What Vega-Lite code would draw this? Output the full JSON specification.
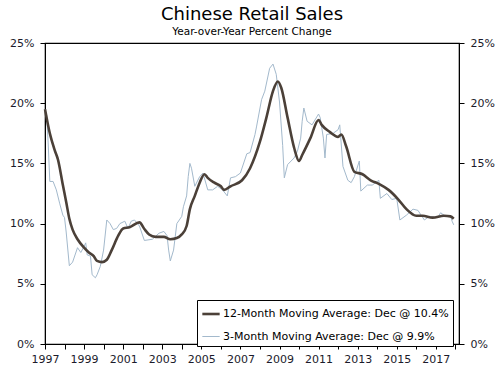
{
  "$schema": "https://vega.github.io/schema/vega-lite/v6.json",
  "width": 414,
  "height": 301,
  "autosize": "none",
  "padding": {"left": 45, "top": 43, "right": 41, "bottom": 28},
  "background": "white",
  "title": {
    "text": "Chinese Retail Sales",
    "subtitle": "Year-over-Year Percent Change",
    "font": "DejaVu Sans",
    "fontSize": 18,
    "fontWeight": "normal",
    "color": "#000",
    "subtitleFont": "DejaVu Sans",
    "subtitleFontSize": 10.5,
    "subtitleColor": "#000",
    "subtitlePadding": 3,
    "anchor": "middle",
    "offset": 5,
    "dy": 5
  },
  "config": {
    "view": {"stroke": "#000", "strokeWidth": 1.2},
    "axis": {
      "labelFont": "DejaVu Sans",
      "labelFontSize": 11,
      "labelColor": "#1b1b2b",
      "domainColor": "#000",
      "tickColor": "#000",
      "grid": false,
      "title": null
    }
  },
  "data": {
    "values": [
      {"date": "1997-01", "series": "12-Month", "value": 19.5},
      {"date": "1997-04", "series": "12-Month", "value": 17.5},
      {"date": "1997-07", "series": "12-Month", "value": 16.1},
      {"date": "1997-09", "series": "12-Month", "value": 15.3},
      {"date": "1997-12", "series": "12-Month", "value": 13.2},
      {"date": "1998-02", "series": "12-Month", "value": 11.8},
      {"date": "1998-04", "series": "12-Month", "value": 10.4},
      {"date": "1998-06", "series": "12-Month", "value": 9.5},
      {"date": "1998-09", "series": "12-Month", "value": 8.7},
      {"date": "1999-01", "series": "12-Month", "value": 8.0},
      {"date": "1999-04", "series": "12-Month", "value": 7.6},
      {"date": "1999-07", "series": "12-Month", "value": 7.3},
      {"date": "1999-09", "series": "12-Month", "value": 6.9},
      {"date": "1999-12", "series": "12-Month", "value": 6.8},
      {"date": "2000-03", "series": "12-Month", "value": 7.0},
      {"date": "2000-06", "series": "12-Month", "value": 7.8},
      {"date": "2000-10", "series": "12-Month", "value": 9.0},
      {"date": "2001-01", "series": "12-Month", "value": 9.6},
      {"date": "2001-05", "series": "12-Month", "value": 9.7},
      {"date": "2001-11", "series": "12-Month", "value": 10.1},
      {"date": "2002-02", "series": "12-Month", "value": 9.55},
      {"date": "2002-05", "series": "12-Month", "value": 9.1},
      {"date": "2002-09", "series": "12-Month", "value": 8.9},
      {"date": "2003-02", "series": "12-Month", "value": 8.9},
      {"date": "2003-06", "series": "12-Month", "value": 8.7},
      {"date": "2003-10", "series": "12-Month", "value": 8.8},
      {"date": "2004-01", "series": "12-Month", "value": 9.1},
      {"date": "2004-04", "series": "12-Month", "value": 9.8},
      {"date": "2004-06", "series": "12-Month", "value": 11.2},
      {"date": "2004-09", "series": "12-Month", "value": 12.3},
      {"date": "2004-12", "series": "12-Month", "value": 13.4},
      {"date": "2005-03", "series": "12-Month", "value": 14.1},
      {"date": "2005-05", "series": "12-Month", "value": 13.8},
      {"date": "2005-09", "series": "12-Month", "value": 13.4},
      {"date": "2006-01", "series": "12-Month", "value": 13.1},
      {"date": "2006-03", "series": "12-Month", "value": 12.8},
      {"date": "2006-07", "series": "12-Month", "value": 13.1},
      {"date": "2007-02", "series": "12-Month", "value": 13.6},
      {"date": "2007-07", "series": "12-Month", "value": 14.6},
      {"date": "2008-01", "series": "12-Month", "value": 16.8},
      {"date": "2008-05", "series": "12-Month", "value": 18.8},
      {"date": "2008-09", "series": "12-Month", "value": 21.0},
      {"date": "2008-12", "series": "12-Month", "value": 21.8},
      {"date": "2009-02", "series": "12-Month", "value": 21.3},
      {"date": "2009-06", "series": "12-Month", "value": 18.8},
      {"date": "2009-10", "series": "12-Month", "value": 16.3},
      {"date": "2010-01", "series": "12-Month", "value": 15.2},
      {"date": "2010-03", "series": "12-Month", "value": 15.7},
      {"date": "2010-08", "series": "12-Month", "value": 17.1},
      {"date": "2011-01", "series": "12-Month", "value": 18.6},
      {"date": "2011-03", "series": "12-Month", "value": 18.2},
      {"date": "2011-08", "series": "12-Month", "value": 17.6},
      {"date": "2012-01", "series": "12-Month", "value": 17.2},
      {"date": "2012-03", "series": "12-Month", "value": 17.4},
      {"date": "2012-06", "series": "12-Month", "value": 16.4},
      {"date": "2012-11", "series": "12-Month", "value": 14.3},
      {"date": "2013-04", "series": "12-Month", "value": 14.1},
      {"date": "2013-09", "series": "12-Month", "value": 13.6},
      {"date": "2014-02", "series": "12-Month", "value": 13.3},
      {"date": "2014-08", "series": "12-Month", "value": 12.8},
      {"date": "2015-02", "series": "12-Month", "value": 12.0},
      {"date": "2015-07", "series": "12-Month", "value": 11.2},
      {"date": "2016-01", "series": "12-Month", "value": 10.65},
      {"date": "2016-05", "series": "12-Month", "value": 10.65},
      {"date": "2016-11", "series": "12-Month", "value": 10.5},
      {"date": "2017-06", "series": "12-Month", "value": 10.65},
      {"date": "2017-10", "series": "12-Month", "value": 10.6},
      {"date": "2017-12", "series": "12-Month", "value": 10.4},

      {"date": "1997-01", "series": "3-Month", "value": 19.5},
      {"date": "1997-02", "series": "3-Month", "value": 19.0},
      {"date": "1997-03", "series": "3-Month", "value": 16.7},
      {"date": "1997-04", "series": "3-Month", "value": 13.5},
      {"date": "1997-06", "series": "3-Month", "value": 13.5},
      {"date": "1997-08", "series": "3-Month", "value": 12.8},
      {"date": "1997-10", "series": "3-Month", "value": 11.7},
      {"date": "1997-12", "series": "3-Month", "value": 10.7},
      {"date": "1998-01", "series": "3-Month", "value": 10.5},
      {"date": "1998-02", "series": "3-Month", "value": 9.3},
      {"date": "1998-04", "series": "3-Month", "value": 6.5},
      {"date": "1998-06", "series": "3-Month", "value": 6.8},
      {"date": "1998-09", "series": "3-Month", "value": 8.0},
      {"date": "1998-11", "series": "3-Month", "value": 7.6},
      {"date": "1999-01", "series": "3-Month", "value": 8.1},
      {"date": "1999-02", "series": "3-Month", "value": 8.4},
      {"date": "1999-03", "series": "3-Month", "value": 7.4},
      {"date": "1999-05", "series": "3-Month", "value": 7.3},
      {"date": "1999-06", "series": "3-Month", "value": 5.75},
      {"date": "1999-08", "series": "3-Month", "value": 5.5},
      {"date": "1999-09", "series": "3-Month", "value": 5.75},
      {"date": "1999-11", "series": "3-Month", "value": 6.45},
      {"date": "2000-01", "series": "3-Month", "value": 7.8},
      {"date": "2000-03", "series": "3-Month", "value": 10.3},
      {"date": "2000-05", "series": "3-Month", "value": 10.0},
      {"date": "2000-07", "series": "3-Month", "value": 9.5},
      {"date": "2000-09", "series": "3-Month", "value": 9.6},
      {"date": "2000-11", "series": "3-Month", "value": 10.0},
      {"date": "2001-02", "series": "3-Month", "value": 10.2},
      {"date": "2001-04", "series": "3-Month", "value": 9.6},
      {"date": "2001-06", "series": "3-Month", "value": 10.2},
      {"date": "2001-08", "series": "3-Month", "value": 10.3},
      {"date": "2001-11", "series": "3-Month", "value": 9.8},
      {"date": "2002-02", "series": "3-Month", "value": 8.6},
      {"date": "2002-07", "series": "3-Month", "value": 8.7},
      {"date": "2002-11", "series": "3-Month", "value": 9.2},
      {"date": "2003-02", "series": "3-Month", "value": 9.35},
      {"date": "2003-04", "series": "3-Month", "value": 9.0},
      {"date": "2003-05", "series": "3-Month", "value": 7.8},
      {"date": "2003-06", "series": "3-Month", "value": 6.9},
      {"date": "2003-08", "series": "3-Month", "value": 7.8},
      {"date": "2003-10", "series": "3-Month", "value": 10.0},
      {"date": "2004-01", "series": "3-Month", "value": 10.6},
      {"date": "2004-02", "series": "3-Month", "value": 11.4},
      {"date": "2004-04", "series": "3-Month", "value": 12.3},
      {"date": "2004-05", "series": "3-Month", "value": 13.9},
      {"date": "2004-06", "series": "3-Month", "value": 15.0},
      {"date": "2004-07", "series": "3-Month", "value": 14.6},
      {"date": "2004-09", "series": "3-Month", "value": 13.1},
      {"date": "2004-12", "series": "3-Month", "value": 13.9},
      {"date": "2005-02", "series": "3-Month", "value": 14.2},
      {"date": "2005-05", "series": "3-Month", "value": 12.8},
      {"date": "2005-08", "series": "3-Month", "value": 12.8},
      {"date": "2005-11", "series": "3-Month", "value": 13.1},
      {"date": "2006-02", "series": "3-Month", "value": 12.8},
      {"date": "2006-05", "series": "3-Month", "value": 12.3},
      {"date": "2006-07", "series": "3-Month", "value": 13.8},
      {"date": "2006-10", "series": "3-Month", "value": 13.9},
      {"date": "2007-01", "series": "3-Month", "value": 14.2},
      {"date": "2007-05", "series": "3-Month", "value": 15.8},
      {"date": "2007-07", "series": "3-Month", "value": 15.9},
      {"date": "2007-10", "series": "3-Month", "value": 17.4},
      {"date": "2007-11", "series": "3-Month", "value": 18.1},
      {"date": "2008-02", "series": "3-Month", "value": 20.3},
      {"date": "2008-04", "series": "3-Month", "value": 21.0},
      {"date": "2008-07", "series": "3-Month", "value": 22.9},
      {"date": "2008-09", "series": "3-Month", "value": 23.25},
      {"date": "2008-11", "series": "3-Month", "value": 22.4},
      {"date": "2009-01", "series": "3-Month", "value": 20.1},
      {"date": "2009-03", "series": "3-Month", "value": 16.5},
      {"date": "2009-04", "series": "3-Month", "value": 13.8},
      {"date": "2009-06", "series": "3-Month", "value": 14.9},
      {"date": "2009-10", "series": "3-Month", "value": 15.45},
      {"date": "2009-12", "series": "3-Month", "value": 16.0},
      {"date": "2010-02", "series": "3-Month", "value": 17.1},
      {"date": "2010-03", "series": "3-Month", "value": 18.5},
      {"date": "2010-04", "series": "3-Month", "value": 19.6},
      {"date": "2010-06", "series": "3-Month", "value": 18.5},
      {"date": "2010-09", "series": "3-Month", "value": 18.2},
      {"date": "2011-01", "series": "3-Month", "value": 19.1},
      {"date": "2011-02", "series": "3-Month", "value": 18.8},
      {"date": "2011-04", "series": "3-Month", "value": 17.1},
      {"date": "2011-05", "series": "3-Month", "value": 15.45},
      {"date": "2011-06", "series": "3-Month", "value": 17.4},
      {"date": "2011-10", "series": "3-Month", "value": 17.5},
      {"date": "2012-01", "series": "3-Month", "value": 17.8},
      {"date": "2012-02", "series": "3-Month", "value": 18.2},
      {"date": "2012-04", "series": "3-Month", "value": 14.75},
      {"date": "2012-07", "series": "3-Month", "value": 13.6},
      {"date": "2012-09", "series": "3-Month", "value": 13.4},
      {"date": "2012-11", "series": "3-Month", "value": 13.9},
      {"date": "2013-02", "series": "3-Month", "value": 15.2},
      {"date": "2013-03", "series": "3-Month", "value": 12.7},
      {"date": "2013-07", "series": "3-Month", "value": 13.2},
      {"date": "2013-10", "series": "3-Month", "value": 13.2},
      {"date": "2014-02", "series": "3-Month", "value": 13.6},
      {"date": "2014-03", "series": "3-Month", "value": 12.1},
      {"date": "2014-07", "series": "3-Month", "value": 12.5},
      {"date": "2014-10", "series": "3-Month", "value": 12.0},
      {"date": "2015-01", "series": "3-Month", "value": 12.1},
      {"date": "2015-03", "series": "3-Month", "value": 10.3},
      {"date": "2015-07", "series": "3-Month", "value": 10.7},
      {"date": "2015-11", "series": "3-Month", "value": 11.2},
      {"date": "2016-02", "series": "3-Month", "value": 11.1},
      {"date": "2016-06", "series": "3-Month", "value": 10.3},
      {"date": "2016-09", "series": "3-Month", "value": 10.6},
      {"date": "2017-02", "series": "3-Month", "value": 10.5},
      {"date": "2017-04", "series": "3-Month", "value": 10.9},
      {"date": "2017-07", "series": "3-Month", "value": 10.6},
      {"date": "2017-10", "series": "3-Month", "value": 10.65},
      {"date": "2017-11", "series": "3-Month", "value": 10.2},
      {"date": "2017-12", "series": "3-Month", "value": 9.9}
    ]
  },
  "encoding": {
    "x": {
      "field": "date",
      "type": "temporal",
      "scale": {
        "type": "utc",
        "nice": false,
        "domain": [
          {"year": 1997, "month": 1, "date": 1, "utc": true},
          {"year": 2018, "month": 3, "date": 10, "utc": true}
        ]
      },
      "axis": {
        "tickCount": {"interval": "year", "step": 1},
        "labelExpr": "utcyear(datum.value) % 2 == 1 ? utcFormat(datum.value, '%Y') : ''",
        "tickSize": 5,
        "labelPadding": 4,
        "labelFlush": false,
        "labelOverlap": false
      }
    },
    "color": {
      "field": "series",
      "type": "nominal",
      "scale": {"domain": ["12-Month", "3-Month"], "range": ["#4b4038", "#a3b9cc"]},
      "legend": {
        "title": null,
        "orient": "none",
        "legendX": 152,
        "legendY": 257,
        "strokeColor": "#000",
        "fillColor": "white",
        "padding": 4,
        "labelFont": "DejaVu Sans",
        "labelFontSize": 11,
        "labelColor": "#000",
        "labelLimit": 0,
        "symbolType": "stroke",
        "symbolSize": 300,
        "rowPadding": 7,
        "labelOffset": 2,
        "labelExpr": "datum.value == '12-Month' ? '12-Month Moving Average: Dec @ 10.4%' : '3-Month Moving Average: Dec @ 9.9%'"
      }
    },
    "strokeWidth": {
      "field": "series",
      "type": "nominal",
      "scale": {"domain": ["12-Month", "3-Month"], "range": [2.6, 1]},
      "legend": {
        "title": null,
        "orient": "none",
        "legendX": 152,
        "legendY": 257,
        "strokeColor": "#000",
        "fillColor": "white",
        "padding": 4,
        "labelFont": "DejaVu Sans",
        "labelFontSize": 11,
        "labelColor": "#000",
        "labelLimit": 0,
        "symbolType": "stroke",
        "symbolSize": 300,
        "rowPadding": 7,
        "labelOffset": 2,
        "labelExpr": "datum.value == '12-Month' ? '12-Month Moving Average: Dec @ 10.4%' : '3-Month Moving Average: Dec @ 9.9%'"
      }
    }
  },
  "layer": [
    {
      "transform": [{"filter": "datum.series == '3-Month'"}],
      "mark": {"type": "line", "interpolate": "linear"},
      "encoding": {
        "y": {
          "field": "value",
          "type": "quantitative",
          "scale": {"domain": [0, 25], "nice": false},
          "axis": {"orient": "left", "values": [0, 5, 10, 15, 20, 25], "labelExpr": "datum.value + '%'", "tickSize": 5, "labelPadding": 6}
        }
      }
    },
    {
      "transform": [{"filter": "datum.series == '12-Month'"}],
      "mark": {"type": "line", "interpolate": "monotone"},
      "encoding": {
        "y": {
          "field": "value",
          "type": "quantitative",
          "scale": {"domain": [0, 25], "nice": false},
          "axis": {"orient": "right", "values": [0, 5, 10, 15, 20, 25], "labelExpr": "datum.value + '%'", "tickSize": 5, "labelPadding": 6}
        }
      }
    }
  ],
  "resolve": {"axis": {"y": "independent"}}
}
